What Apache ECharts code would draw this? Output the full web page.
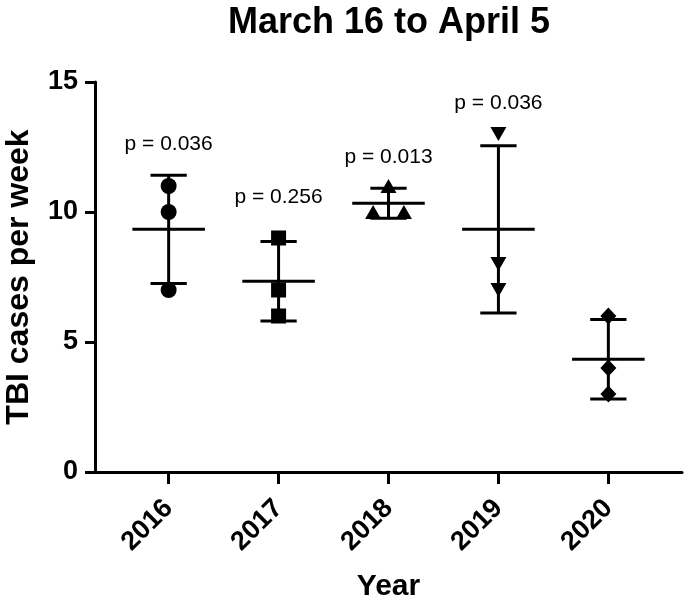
<!DOCTYPE html>
<html>
<head>
<meta charset="utf-8">
<script src="https://cdn.jsdelivr.net/npm/echarts@6/dist/echarts.min.js"></script>
<style>
  html, body { margin: 0; padding: 0; background: #ffffff; }
  #chart { width: 685px; height: 604px; }
</style>
</head>
<body>
<div id="chart"></div>
<script>
// ---- data ----
const years = ['2016', '2017', '2018', '2019', '2020'];
const cases2016 = [11, 10, 7];
const cases2017 = [9, 7, 6];
const cases2018 = [11, 10, 10];
const cases2019 = [13, 8, 7];
const cases2020 = [6, 4, 3];
const casesByYear = [cases2016, cases2017, cases2018, cases2019, cases2020];
const pLabels = ['p = 0.036', 'p = 0.256', 'p = 0.013', 'p = 0.036'];
const pLabelY = [12.6, 10.55, 12.1, 14.2];
const yTicks = [0, 5, 10, 15];

// ---- helpers ----
const FONT = 'Liberation Sans, Arial, Helvetica, sans-serif';
const symbols = ['circle', 'rect', 'triangle', 'triangle', 'diamond'];
const symbolRotate = [0, 0, 0, 180, 0];
const symbolSizes = [16, 15, [16, 14], [16, 14], [16, 17]];

function mean(a) { return a.reduce((s, v) => s + v, 0) / a.length; }
function sd(a) {
  const m = mean(a);
  return Math.sqrt(a.reduce((s, v) => s + (v - m) * (v - m), 0) / (a.length - 1));
}
// spread duplicated values horizontally (like Prism scatter)
function spread(vals, idx) {
  const out = [];
  const seen = {};
  vals.forEach(v => { seen[v] = (seen[v] || 0) + 1; });
  const used = {};
  vals.forEach(v => {
    const n = seen[v];
    const k = used[v] = (used[v] || 0) + 1;
    const off = n > 1 ? (k - 1 - (n - 1) / 2) * 0.28 : 0;
    out.push([idx + 1 + off, v]);
  });
  return out;
}

const statsData = casesByYear.map((vals, i) => [i + 1, mean(vals), sd(vals)]);

const scatterSeries = casesByYear.map((vals, i) => ({
  type: 'scatter',
  name: years[i],
  data: spread(vals, i),
  symbol: symbols[i],
  symbolRotate: symbolRotate[i],
  symbolSize: symbolSizes[i],
  itemStyle: { color: '#000', opacity: 1 },
  z: 3,
  silent: true
}));

const option = {
  animation: false,
  backgroundColor: '#ffffff',
  title: {
    text: 'March 16 to April 5',
    left: 384,
    top: 0,
    textAlign: 'center',
    textStyle: { fontFamily: FONT, fontWeight: 'bold', fontSize: 36, color: '#000' }
  },
  grid: { left: 95, right: 3, top: 82, bottom: 132, containLabel: false, outerBoundsMode: 'none' },
  xAxis: {
    type: 'value',
    min: 0.33,
    max: 5.67,
    name: 'Year',
    nameLocation: 'middle',
    nameGap: 100,
    nameTextStyle: { fontFamily: FONT, fontWeight: 'bold', fontSize: 30, color: '#000' },
    axisLine: { show: true, lineStyle: { color: '#000', width: 3 } },
    axisTick: { show: true, length: 12, lineStyle: { color: '#000', width: 3 }, customValues: [1, 2, 3, 4, 5] },
    axisLabel: {
      customValues: [1, 2, 3, 4, 5],
      formatter: v => years[Math.round(v) - 1],
      rotate: 45,
      margin: 32,
      fontFamily: FONT, fontWeight: 'bold', fontSize: 27, color: '#000'
    },
    splitLine: { show: false }
  },
  yAxis: {
    type: 'value',
    min: 0,
    max: 15,
    interval: 5,
    name: 'TBI cases per week',
    nameLocation: 'middle',
    nameGap: 60,
    nameTextStyle: { fontFamily: FONT, fontWeight: 'bold', fontSize: 32, color: '#000' },
    axisLine: { show: true, lineStyle: { color: '#000', width: 3 } },
    axisTick: { show: true, length: 10, lineStyle: { color: '#000', width: 3 } },
    axisLabel: {
      margin: 17,
      formatter: v => (yTicks.indexOf(v) >= 0 ? String(v) : ''),
      fontFamily: FONT, fontWeight: 'bold', fontSize: 27, color: '#000'
    },
    splitLine: { show: false }
  },
  series: [
    {
      type: 'custom',
      name: 'mean ± SD',
      data: statsData,
      z: 2,
      silent: true,
      renderItem: function (params, api) {
        const x = api.value(0), m = api.value(1), s = api.value(2);
        const top = m + s, bot = m - s;
        const st = { stroke: '#000', lineWidth: 3 };
        const line = (a, b) => ({ type: 'line', shape: { x1: a[0], y1: a[1], x2: b[0], y2: b[1] }, style: st });
        return {
          type: 'group',
          children: [
            line(api.coord([x, bot]), api.coord([x, top])),
            line(api.coord([x - 0.33, m]), api.coord([x + 0.33, m])),
            line(api.coord([x - 0.165, top]), api.coord([x + 0.165, top])),
            line(api.coord([x - 0.165, bot]), api.coord([x + 0.165, bot]))
          ]
        };
      }
    },
    ...scatterSeries,
    {
      type: 'scatter',
      name: 'p values',
      data: pLabels.map((t, i) => [i + 1, pLabelY[i], t]),
      symbolSize: 0,
      silent: true,
      itemStyle: { opacity: 1, color: '#000' },
      label: {
        show: true,
        position: 'inside',
        formatter: p => p.data[2],
        fontFamily: FONT, fontSize: 21, color: '#000', opacity: 1
      }
    }
  ]
};

const chart = echarts.init(document.getElementById('chart'), null, { renderer: 'canvas' });
chart.setOption(option);
</script>
</body>
</html>
